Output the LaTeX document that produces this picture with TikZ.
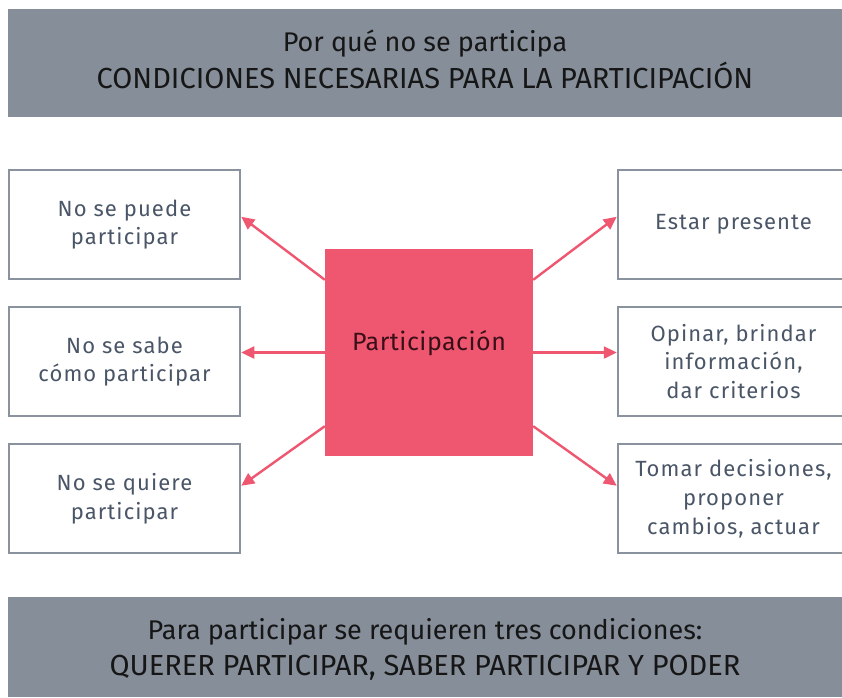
\documentclass[tikz,border=0pt]{standalone}
\usepackage{fontspec}
\setmainfont{Fira Sans}
\newfontfamily\boxfont[LetterSpace=5]{Fira Sans}
\newfontfamily\centerfont[LetterSpace=2]{Fira Sans}
\usetikzlibrary{arrows.meta,calc}
\definecolor{bannergray}{HTML}{858E99}
\definecolor{boxgray}{HTML}{8A939D}
\definecolor{boxtext}{HTML}{4A5667}
\definecolor{pinkc}{HTML}{EF5770}
\definecolor{darkred}{HTML}{3A1018}
\definecolor{bantext}{HTML}{161616}
\tikzset{
  banner/.style={fill=bannergray, minimum width=834pt, inner sep=0pt, align=center,
    text=bantext, font=\fontsize{29}{37}\selectfont},
  sidebox/.style={draw=boxgray, line width=2.5pt, fill=white, minimum width=231pt,
    minimum height=109pt, inner sep=0pt, align=center, text=boxtext,
    font=\boxfont\fontsize{22}{28.8}\selectfont},
  centerbox/.style={fill=pinkc, minimum width=208pt, minimum height=207pt, inner sep=0pt,
    text=darkred, font=\centerfont\fontsize{25}{29}\selectfont},
  arr/.style={draw=pinkc, line width=2.4pt, -{Triangle[length=13pt,width=12pt]}}
}
\newcommand{\lowline}[1]{{\fontsize{27}{37}\selectfont #1}}
\begin{document}
\begin{tikzpicture}[x=1pt,y=-1pt]
\useasboundingbox (0,0) rectangle (842,697);
\node[banner, minimum height=108pt] (top) at (425,63) {};
\node[align=center, text=bantext, font=\fontsize{29}{37}\selectfont, inner sep=0pt] (toptext) at ([yshift=4pt]top.center) {\lowline{Por qué no se participa}\\CONDICIONES NECESARIAS PARA LA PARTICIPACIÓN};
\node[banner, minimum height=100pt] (bot) at (425,647) {};
\node[align=center, text=bantext, font=\fontsize{29}{36}\selectfont, inner sep=0pt] (bottext) at ([yshift=-2pt]bot.center) {\lowline{Para participar se requieren tres condiciones:}\\QUERER PARTICIPAR, SABER PARTICIPAR Y PODER};
\node[sidebox] (l1) at (124.5,224.5) {No se puede\\participar};
\node[sidebox] (l2) at (124.5,361.5) {No se sabe\\cómo participar};
\node[sidebox] (l3) at (124.5,498.5) {No se quiere\\participar};
\node[sidebox] (r1) at (733.5,224.5) {Estar presente};
\node[sidebox] (r2) at (733.5,361.5) {Opinar, brindar\\información,\\dar criterios};
\node[sidebox] (r3) at (733.5,498.5) {Tomar decisiones,\\proponer\\cambios, actuar};
\node[centerbox] (c) at (429,352.5) {};
\node[text=darkred, font=\centerfont\fontsize{25}{29}\selectfont, inner sep=0pt] (ctext) at ([yshift=9pt]c.center) {Participación};
\draw[arr] ($(c.north west)+(0,31)$) -- ($(l1.north east)+(0,48)$);
\draw[arr] (c.west) -- (c.west -| l2.east);
\draw[arr] ($(c.south west)+(0,-30)$) -- ($(l3.north east)+(0,43)$);
\draw[arr] ($(c.north east)+(0,31)$) -- ($(r1.north west)+(0,48)$);
\draw[arr] (c.east) -- (c.east -| r2.west);
\draw[arr] ($(c.south east)+(0,-30)$) -- ($(r3.north west)+(0,43)$);
\end{tikzpicture}
\end{document}
